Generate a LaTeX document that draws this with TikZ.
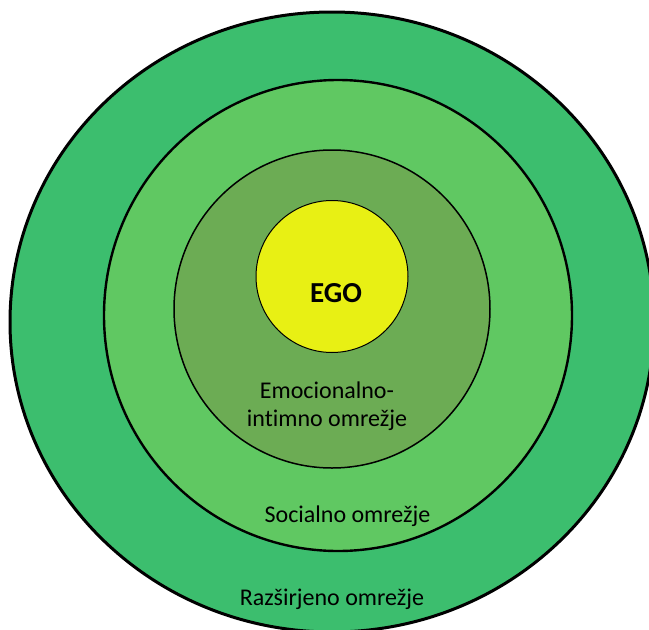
\documentclass[tikz,border=0pt]{standalone}
\usepackage{fontspec}
\setmainfont[Ligatures=NoCommon]{Carlito}
\definecolor{ringA}{RGB}{60,190,110}
\definecolor{ringB}{RGB}{96,200,98}
\definecolor{ringC}{RGB}{108,172,84}
\definecolor{egoY}{RGB}{232,240,20}
\begin{document}
\begin{tikzpicture}[x=1pt,y=-1pt,
  lbl/.style={font=\fontsize{24}{28}\selectfont, inner sep=0pt, anchor=base}]
\useasboundingbox (0,0) rectangle (649,630);
\begin{scope}
\clip (0,0) rectangle (649,630);
\fill[ringA, draw=black, line width=3pt] (332,322) ellipse [x radius=322, y radius=310];
\end{scope}
\filldraw[ringB, draw=black, line width=2.4pt] (338,315.5) ellipse [x radius=234, y radius=235.5];
\filldraw[ringC, draw=black, line width=1.5pt] (332,309) ellipse [x radius=158, y radius=159];
\filldraw[egoY, draw=black, line width=1pt] (332,276.5) circle [radius=76];
\node[lbl, font=\fontsize{29}{32}\selectfont\bfseries] (ego) at (336,302) {EGO};
\node[lbl] (emo1) at (327,398) {Emocionalno-};
\node[lbl] (emo2) at (327,426) {intimno omrežje};
\node[lbl] (soc) at (347.5,522) {Socialno omrežje};
\node[lbl] (raz) at (332,605) {Razširjeno omrežje};
\end{tikzpicture}
\end{document}
